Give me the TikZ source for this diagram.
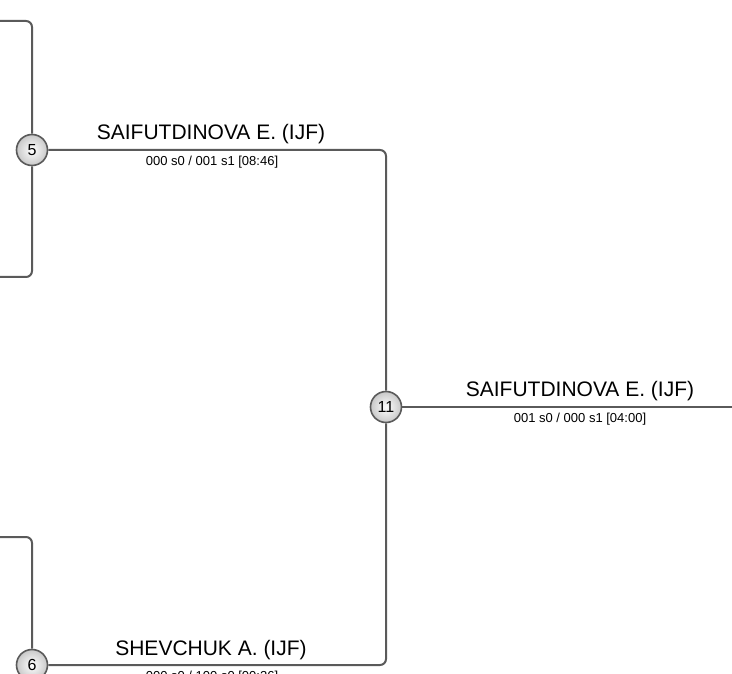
\documentclass[tikz,border=0pt]{standalone}
\usepackage{fontspec}
\setmainfont{Liberation Sans}
\usetikzlibrary{positioning, calc}
\definecolor{linegray}{HTML}{5A5A5A}
\definecolor{ballgray}{HTML}{C8C8C8}

\tikzset{
    bracketline/.style={draw=linegray, line width=2pt, rounded corners=6pt},
    matchno/.style={circle, draw=linegray, line width=1.6pt, inner sep=0pt, minimum size=31pt,
        inner color=white, outer color=ballgray, font=\fontsize{16}{16}\selectfont},
    playername/.style={anchor=base, inner sep=0pt, font=\fontsize{21}{21}\selectfont},
    scoretext/.style={anchor=north, inner sep=0pt, font=\fontsize{13}{13}\selectfont}
}

\begin{document}
\begin{tikzpicture}[x=1pt, y=-1pt]
    \useasboundingbox (0,0) rectangle (732,674);
    \clip (0,0) rectangle (732,674);
    % match nodes
    \node[matchno] (m5) at (32,150) {5};
    \node[matchno] (m6) at (32,665) {6};
    \node[matchno] (m11) at (386,407) {11};
    % free ends
    \coordinate (in5a) at (0,21);
    \coordinate (in5b) at (0,277);
    \coordinate (in6a) at (0,537);
    \coordinate (out11) at (732,407);
    % brackets
    \draw[bracketline] (in5a) -| (m5);
    \draw[bracketline] (in5b) -| (m5);
    \draw[bracketline] (in6a) -| (m6);
    \draw[bracketline] (m5) -| (m11);
    \draw[bracketline] (m6) -| (m11);
    \draw[bracketline] (m11) -- (out11);
    % names and scores
    \node[playername] (w5) at (211,140) {SAIFUTDINOVA E. (IJF)};
    \node[scoretext] (s5) at (212,156) {000 s0 / 001 s1 [08:46]};
    \node[playername] (w6) at (211,655) {SHEVCHUK A. (IJF)};
    \node[scoretext] (s6) at (212,671) {000 s0 / 100 s0 [00:26]};
    \node[playername] (w11) at (580,396) {SAIFUTDINOVA E. (IJF)};
    \node[scoretext] (s11) at (580,413) {001 s0 / 000 s1 [04:00]};
\end{tikzpicture}
\end{document}
